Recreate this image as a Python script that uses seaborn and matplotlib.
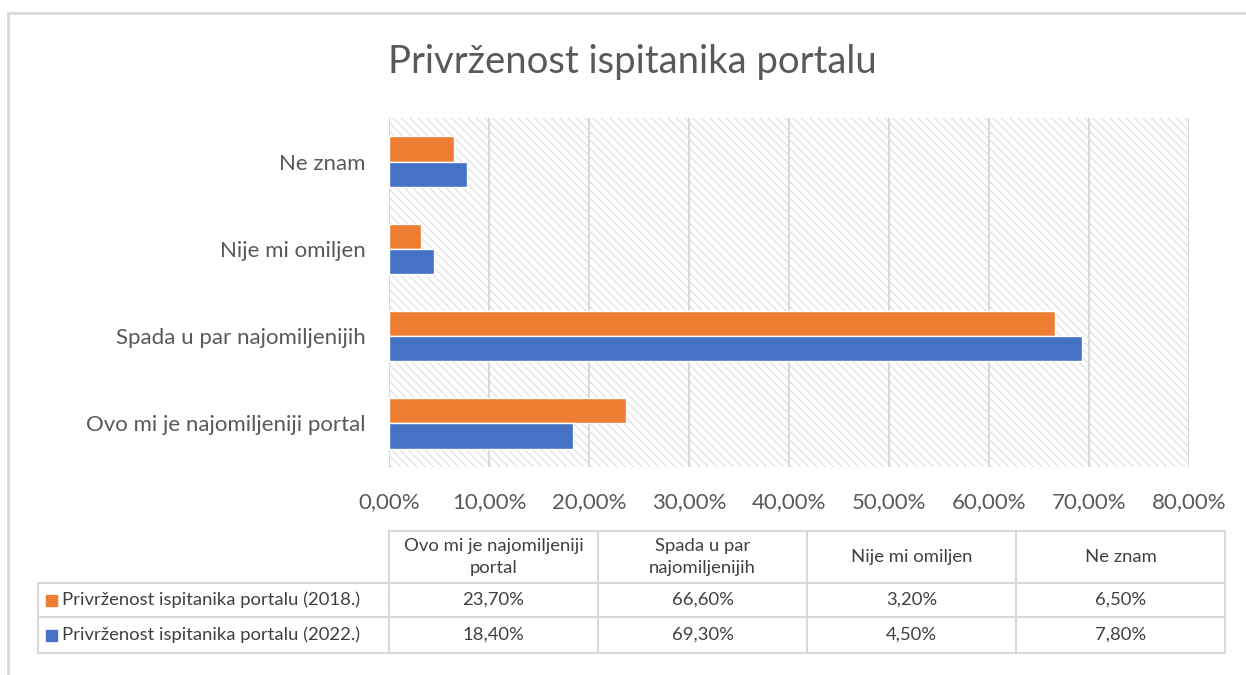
import pandas as pd
import matplotlib
matplotlib.use("Agg")
import matplotlib.pyplot as plt
from matplotlib.patches import Rectangle
from matplotlib.lines import Line2D
import seaborn as sns

categories = ["Ne znam", "Nije mi omiljen", "Spada u par najomiljenijih", "Ovo mi je najomiljeniji portal"]
table_headers = ["Ovo mi je najomiljeniji\nportal", "Spada u par\nnajomiljenijih", "Nije mi omiljen", "Ne znam"]
series_names = ["Privrženost ispitanika portalu (2018.)", "Privrženost ispitanika portalu (2022.)"]
values_2018 = [6.5, 3.2, 66.6, 23.7]
values_2022 = [7.8, 4.5, 69.3, 18.4]
xticks = [0, 10, 20, 30, 40, 50, 60, 70, 80]
colors = ["#ED7D31", "#4472C4"]

sns.set_theme(style="white")
plt.rcParams["font.family"] = ["Lato", "DejaVu Sans"]
plt.rcParams["hatch.linewidth"] = 0.8
plt.rcParams["hatch.color"] = "#dedede"

df = pd.DataFrame({
    "kategorija": categories * 2,
    "vrijednost": values_2018 + values_2022,
    "serija": [series_names[0]] * 4 + [series_names[1]] * 4,
})

W, H = 1246, 675
fig = plt.figure(figsize=(W / 100, H / 100), dpi=100)
ax = fig.add_axes([389 / W, 1 - 467 / H, 800 / W, 349 / H])

# hatched plot area
ax.add_patch(Rectangle((0, 0), 1, 1, transform=ax.transAxes, facecolor="white",
                       edgecolor="#dedede", hatch="\\\\\\\\", linewidth=0, zorder=0))

sns.barplot(data=df, y="kategorija", x="vrijednost", hue="serija", order=categories,
            hue_order=series_names, palette=colors, orient="h", width=0.58,
            gap=0, saturation=1, ax=ax, zorder=3, legend=False)

for t in xticks:
    ax.axvline(t, color="#d9d9d9", linewidth=1.5, zorder=1)

ax.set_xlim(0, 80)
ax.set_ylim(3.5, -0.5)
ax.set_xticks(xticks)
ax.set_xticklabels([f"{t:.2f}%".replace(".", ",") for t in xticks], fontsize=16, color="#595959")
ax.tick_params(axis="x", pad=18, length=0)
ax.tick_params(axis="y", pad=17, length=0, labelsize=16, labelcolor="#595959")
ax.set_xlabel("")
ax.set_ylabel("")
for s in ax.spines.values():
    s.set_visible(False)

fig.text(632 / W, 1 - 62 / H, "Privrženost ispitanika portalu", ha="center", va="center",
         fontsize=27.5, color="#595959")

# outer chart border
fig.add_artist(Line2D([8 / W, 8 / W], [0, 1 - 13 / H], color="#d9d9d9", lw=2))
fig.add_artist(Line2D([8 / W, 1], [1 - 13 / H, 1 - 13 / H], color="#d9d9d9", lw=2))

# data table
col_x = [389, 598, 807, 1016, 1225]
row_y = [531, 583, 617, 653]
lc = "#d9d9d9"

def hline(x0, x1, y):
    fig.add_artist(Line2D([x0 / W, x1 / W], [1 - y / H, 1 - y / H], color=lc, lw=1.5))

def vline(x, y0, y1):
    fig.add_artist(Line2D([x / W, x / W], [1 - y0 / H, 1 - y1 / H], color=lc, lw=1.5))

hline(col_x[0], col_x[-1], row_y[0])
for y in row_y[1:]:
    hline(38, col_x[-1], y)
for x in col_x:
    vline(x, row_y[0], row_y[-1])
vline(38, row_y[1], row_y[-1])

for i, h in enumerate(table_headers):
    cx = (col_x[i] + col_x[i + 1]) / 2
    fig.text(cx / W, 1 - (row_y[0] + row_y[1]) / 2 / H, h, ha="center", va="center",
             fontsize=13.3, color="#404040", linespacing=1.4)

# table rows follow the original column order (bottom category first)
table_order = categories[::-1]
for r, (name, vals) in enumerate(zip(series_names, [values_2018, values_2022])):
    cy = 1 - (row_y[r + 1] + row_y[r + 2]) / 2 / H
    fig.add_artist(Rectangle((46 / W, cy - 5.5 / H), 11 / W, 11 / H, color=colors[r],
                             transform=fig.transFigure))
    fig.text(62 / W, cy, name, ha="left", va="center", fontsize=13.3, color="#404040")
    lookup = dict(zip(categories, vals))
    for i, cat in enumerate(table_order):
        cx = (col_x[i] + col_x[i + 1]) / 2
        fig.text(cx / W, cy, f"{lookup[cat]:.2f}%".replace(".", ","), ha="center",
                 va="center", fontsize=13.3, color="#404040")

fig.savefig("out.png", dpi=100)
